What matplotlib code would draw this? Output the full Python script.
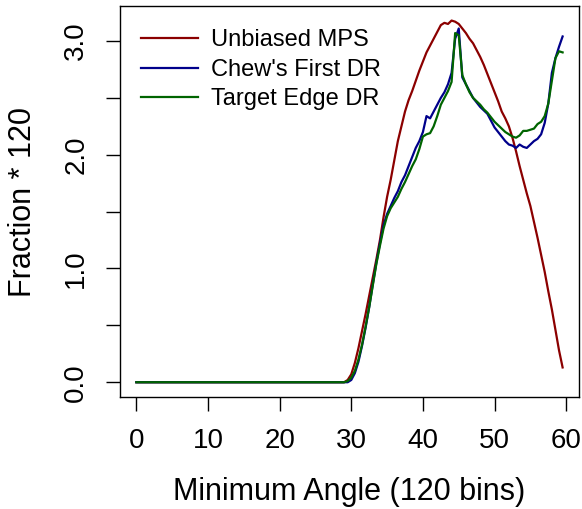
import numpy as np
import matplotlib.pyplot as plt

plt.rcParams['font.family'] = ['Liberation Sans', 'DejaVu Sans']

# bin centres: 120 bins over 0..60 degrees
angle = np.arange(0, 60, 0.5)
n_zero = 58  # bins before x = 29.0 are all zero

# values from x = 29.0 to 59.5 in steps of 0.5
mps_tail = [0.0, 0.02, 0.07, 0.17, 0.30, 0.45, 0.60, 0.76, 0.92, 1.08,
            1.25, 1.45, 1.63, 1.78, 1.95, 2.12, 2.25, 2.38, 2.48, 2.56,
            2.65, 2.74, 2.82, 2.90, 2.96, 3.02, 3.08, 3.14, 3.16, 3.15,
            3.18, 3.17, 3.15, 3.11, 3.07, 3.02, 2.98, 2.92, 2.86, 2.79,
            2.71, 2.63, 2.55, 2.47, 2.38, 2.32, 2.25, 2.15, 2.03, 1.90,
            1.78, 1.66, 1.55, 1.41, 1.27, 1.12, 0.97, 0.80, 0.64, 0.46,
            0.28, 0.13]
chew_tail = [0.0, 0.0, 0.02, 0.08, 0.18, 0.32, 0.48, 0.66, 0.86, 1.05,
             1.22, 1.38, 1.48, 1.55, 1.62, 1.68, 1.76, 1.82, 1.90, 1.98,
             2.06, 2.12, 2.20, 2.34, 2.32, 2.38, 2.44, 2.50, 2.55, 2.62,
             2.72, 3.02, 3.11, 2.68, 2.62, 2.56, 2.50, 2.46, 2.42, 2.39,
             2.36, 2.30, 2.24, 2.20, 2.16, 2.12, 2.09, 2.08, 2.06, 2.09,
             2.07, 2.06, 2.09, 2.12, 2.14, 2.18, 2.28, 2.45, 2.72, 2.85,
             2.95, 3.04]
edge_tail = [0.0, 0.01, 0.04, 0.10, 0.20, 0.33, 0.49, 0.66, 0.85, 1.04,
             1.20, 1.35, 1.46, 1.53, 1.58, 1.63, 1.70, 1.76, 1.83, 1.90,
             1.96, 2.05, 2.16, 2.18, 2.19, 2.25, 2.34, 2.44, 2.50, 2.56,
             2.64, 3.07, 3.05, 2.70, 2.62, 2.55, 2.50, 2.47, 2.44, 2.40,
             2.37, 2.33, 2.29, 2.26, 2.23, 2.20, 2.18, 2.16, 2.15, 2.17,
             2.21, 2.21, 2.22, 2.23, 2.27, 2.29, 2.34, 2.45, 2.65, 2.85,
             2.91, 2.90]

mps = np.r_[np.zeros(n_zero), mps_tail]
chew = np.r_[np.zeros(n_zero), chew_tail]
edge = np.r_[np.zeros(n_zero), edge_tail]

series = [("Unbiased MPS", mps, "#8B0000"),
          ("Chew's First DR", chew, "#00008B"),
          ("Target Edge DR", edge, "#006400")]

fig = plt.figure(figsize=(5.82, 5.09), dpi=100)
ax = fig.add_axes([0.206, 0.22, 0.789, 0.768])

for name, vals, col in series:
    ax.plot(angle, vals, color=col, lw=1.6, label=name)

ax.set_xlim(-2.3, 61.8)
ax.set_ylim(-0.13, 3.307)
ax.set_xticks([0, 10, 20, 30, 40, 50, 60])
ax.set_yticks([0, 0.5, 1, 1.5, 2, 2.5, 3])
ax.set_yticklabels(['0.0', '', '1.0', '', '2.0', '', '3.0'],
                   rotation=90, va='center')
ax.tick_params(length=10, width=1, labelsize=20)
ax.tick_params(axis='x', pad=12)
ax.tick_params(axis='y', pad=12)
for s in ax.spines.values():
    s.set_linewidth(1)

ax.set_xlabel("Minimum Angle (120 bins)", fontsize=22, labelpad=17)
ax.set_ylabel("Fraction * 120", fontsize=22, labelpad=18)

ax.legend(loc='upper left', bbox_to_anchor=(0.0, 0.995), frameon=False,
          fontsize=17, handlelength=2.4, handletextpad=0.55,
          labelspacing=0.32)

fig.savefig("out.png", dpi=100)
